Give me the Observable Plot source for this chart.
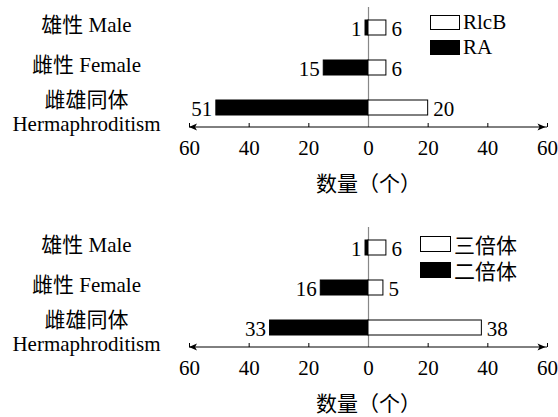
<!DOCTYPE html>
<html>
<head>
<meta charset="utf-8">
<script src="https://cdn.jsdelivr.net/npm/d3@7"></script>
<script src="https://cdn.jsdelivr.net/npm/@observablehq/plot@0.6"></script>
<style>
  body { margin: 0; background: #fff; font-family: 'Liberation Serif', 'Noto Sans CJK SC'; }
  #root { width: 558px; }
  .panel { position: relative; width: 558px; }
  .legend { position: absolute; font-family: 'Liberation Serif', 'Noto Sans CJK SC'; font-size: 21px; color: #000; }
  .legend .row { position: absolute; left: 0; display: flex; align-items: center; white-space: nowrap; }
  .legend .box { box-sizing: border-box; border: 1px solid #000; margin-right: 3px; }
</style>
</head>
<body>
<div id="root"></div>
<script>
const categories = ["雄性 Male", "雌性 Female", "雌雄同体\nHermaphroditism"];
const xTicks = [-60, -40, -20, 0, 20, 40, 60];
const axisTitle = "数量（个）";

const series1 = ["RlcB", "RA"];
const rlcbValues = [6, 6, 20];
const raValues = [1, 15, 51];

const series2 = ["三倍体", "二倍体"];
const triploidValues = [6, 5, 38];
const diploidValues = [1, 16, 33];

const FONT = "'Liberation Serif', 'Noto Sans CJK SC'";

function axisLineMark(index, scales, values, dimensions) {
  const x = scales.x;
  const yA = dimensions.height - dimensions.marginBottom;
  const xa = x(xTicks[0]), xb = x(xTicks[xTicks.length - 1]);
  const g = d3.create("svg:g");
  g.append("line").attr("x1", xa).attr("x2", xb).attr("y1", yA).attr("y2", yA)
    .attr("stroke", "#000").attr("stroke-width", 1);
  g.append("path").attr("d", `M${xa},${yA}l8,-3.5l-2,3.5l2,3.5z`).attr("fill", "#000");
  g.append("path").attr("d", `M${xb - 1.5},${yA}l-8,-3.5l2,3.5l-2,3.5z`).attr("fill", "#000");
  return g.node();
}

function makePanel(rightVals, leftVals, names, height, legendPos) {
  const rows = categories.map((c, i) => ({cat: c, right: rightVals[i], left: leftVals[i]}));
  const single = rows.filter(d => !d.cat.includes("\n"));
  const multi = rows.filter(d => d.cat.includes("\n"));
  const plot = Plot.plot({
    width: 558,
    height,
    marginTop: 7,
    marginBottom: height - 127,
    marginLeft: 189,
    marginRight: 11,
    style: {fontFamily: FONT, fontSize: "21px", background: "white", color: "#000", overflow: "visible"},
    x: {domain: [-60, 60], ticks: xTicks, tickFormat: d => Math.abs(d), tickSize: 0, tickPadding: 13, label: null},
    y: {domain: categories, paddingInner: 0.63, paddingOuter: 0.315, axis: null},
    marks: [
      Plot.ruleX([0], {stroke: "#888", strokeWidth: 1.2}),
      Plot.ruleX(xTicks.filter(d => d !== 0), {stroke: "#000", insetTop: 116}),
      axisLineMark,
      Plot.barX(rows, {y: "cat", x1: 0, x2: d => -d.left, fill: "#000", stroke: "#000", strokeWidth: 1}),
      Plot.barX(rows, {y: "cat", x1: 0, x2: "right", fill: "#fff", stroke: "#000", strokeWidth: 1}),
      Plot.text(rows, {y: "cat", x: d => -d.left, text: "left", textAnchor: "end", dx: -4, dy: 1, fill: "#000"}),
      Plot.text(rows, {y: "cat", x: "right", text: "right", textAnchor: "start", dx: 5, dy: 1, fill: "#000"}),
      Plot.text(single, {y: "cat", text: "cat", frameAnchor: "left", dx: -103, dy: -2.5, textAnchor: "middle", fill: "#000"}),
      Plot.text(multi, {y: "cat", text: "cat", frameAnchor: "left", dx: -103, dy: 3.5, textAnchor: "middle", lineHeight: 1.15, fill: "#000"}),
      Plot.text([axisTitle], {text: d => d, frameAnchor: "bottom", dy: 63, fill: "#000"})
    ]
  });
  const panel = document.createElement("div");
  panel.className = "panel";
  panel.appendChild(plot);
  const legend = document.createElement("div");
  legend.className = "legend";
  legend.style.left = legendPos.left + "px";
  legend.style.top = legendPos.top + "px";
  names.forEach((n, i) => {
    const row = document.createElement("div");
    row.className = "row";
    row.style.top = (i * legendPos.step) + "px";
    row.style.height = legendPos.h + "px";
    const box = document.createElement("div");
    box.className = "box";
    box.style.width = legendPos.w + "px";
    box.style.height = legendPos.h + "px";
    box.style.background = i === 0 ? "#fff" : "#000";
    const label = document.createElement("span");
    label.textContent = n;
    row.appendChild(box);
    row.appendChild(label);
    legend.appendChild(row);
  });
  panel.appendChild(legend);
  return panel;
}

const root = document.getElementById("root");
root.appendChild(makePanel(rlcbValues, raValues, series1, 220, {left: 430, top: 15, step: 25, w: 30, h: 15}));
root.appendChild(makePanel(triploidValues, diploidValues, series2, 197, {left: 420, top: 16, step: 26, w: 31, h: 16}));
</script>
</body>
</html>
